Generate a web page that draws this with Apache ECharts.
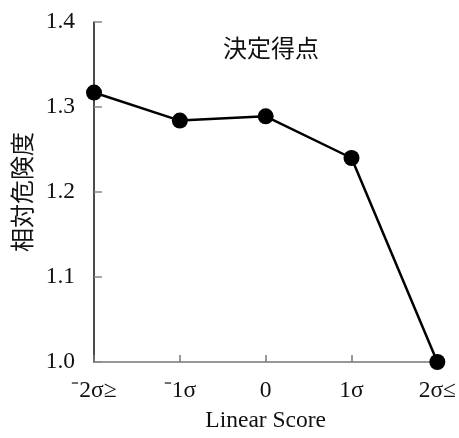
<!DOCTYPE html>
<html>
<head>
<meta charset="utf-8">
<script src="https://cdn.jsdelivr.net/npm/echarts@6/dist/echarts.min.js"></script>
<style>
  html, body { margin: 0; padding: 0; background: #fff; overflow: hidden; }
  #chart { width: 459px; height: 438px; }
</style>
</head>
<body>
<div id="chart"></div>
<script>
// Relative risk by Linear Score band
const categories = ['\u207B2\u03C3\u2265', '\u207B1\u03C3', '0', '1\u03C3', '2\u03C3\u2264'];
const relativeRisk = [1.317, 1.284, 1.289, 1.240, 1.000];
const yTicks = { min: 1.0, max: 1.4, interval: 0.1 };

const serif = '"Liberation Serif", "Times New Roman", serif';
const cjk = '"Noto Sans CJK JP", "Noto Sans", sans-serif';

const chart = echarts.init(document.getElementById('chart'));
chart.setOption({
  animation: false,
  backgroundColor: '#fff',
  title: {
    text: '決定得点',
    left: 266,
    top: 31,
    textAlign: 'center',
    textStyle: { fontFamily: cjk, fontSize: 24, fontWeight: 'normal', color: '#111' }
  },
  grid: { left: 94, width: 344, top: 22, height: 349, containLabel: false },
  xAxis: {
    type: 'category',
    data: categories,
    boundaryGap: false,
    name: 'Linear Score',
    nameLocation: 'middle',
    nameGap: 47,
    nameTextStyle: { fontFamily: serif, fontSize: 23.5, color: '#111' },
    axisLine: { lineStyle: { color: '#777', width: 1.5 } },
    axisTick: { inside: true, length: 7, lineStyle: { color: '#777', width: 1.5 } },
    axisLabel: { fontFamily: serif, fontSize: 23.5, color: '#111', margin: 17 },
    splitLine: { show: false }
  },
  yAxis: {
    type: 'value',
    min: yTicks.min,
    max: yTicks.max,
    interval: yTicks.interval,
    name: '相対危険度',
    nameLocation: 'middle',
    nameGap: 60,
    nameRotate: 90,
    nameTextStyle: { fontFamily: cjk, fontSize: 24, color: '#111' },
    axisLine: { show: true, lineStyle: { color: '#111', width: 1.5 } },
    axisTick: { show: true, inside: true, length: 8, lineStyle: { color: '#888', width: 1.5 } },
    axisLabel: { fontFamily: serif, fontSize: 23.5, color: '#111', margin: 19,
      formatter: v => v.toFixed(1) },
    splitLine: { show: false }
  },
  series: [{
    type: 'line',
    data: relativeRisk,
    symbol: 'circle',
    symbolSize: 16,
    lineStyle: { color: '#000', width: 2.5 },
    itemStyle: { color: '#000' },
    clip: false
  }]
});
</script>
</body>
</html>
